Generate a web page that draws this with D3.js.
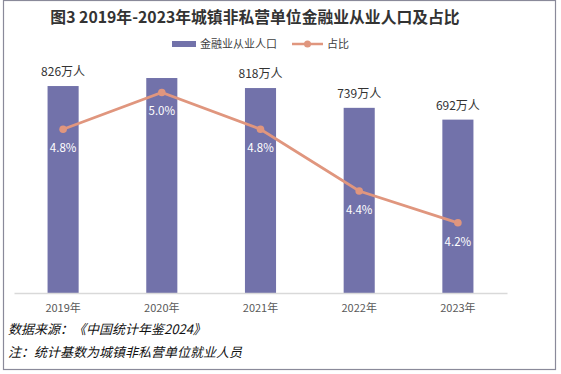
<!DOCTYPE html>
<html><head><meta charset="utf-8">
<script src="https://cdn.jsdelivr.net/npm/d3@7/dist/d3.min.js"></script>
<style>body{margin:0;background:#fff;}svg{display:block;}</style>
</head><body>
<script>
const categories = ["2019年","2020年","2021年","2022年","2023年"];
const employees = [826, 858, 818, 739, 692];
const employeeLabels = ["826万人", "", "818万人", "739万人", "692万人"];
const shares = [4.78, 5.0, 4.78, 4.41, 4.22];
const title = "图3 2019年-2023年城镇非私营单位金融业从业人口及占比";
const legendNames = ["金融业从业人口", "占比"];
const notes = ["数据来源：《中国统计年鉴2024》", "注：统计基数为城镇非私营单位就业人员"];

const W = 561, H = 374;
const barColor = "#7272AA", lineColor = "#E0967E";
const font = "'Noto Sans CJK SC', 'Noto Sans', sans-serif";
const svg = d3.select("body").append("svg").attr("width", W).attr("height", H);

svg.append("rect").attr("x", 3.5).attr("y", 0.5).attr("width", 552).attr("height", 369)
  .attr("fill", "#fff").attr("stroke", "#8a8a9a").attr("stroke-width", 1.2);

const x = d3.scaleBand().domain(categories).range([14, 507]).paddingInner(0.685).paddingOuter(0.34);
const y = d3.scaleLinear().domain([0, 900]).range([293, 67.5]);
const y2 = d3.scaleLinear().domain([3.8, 5.2]).range([293, 59]);

svg.append("text").attr("x", 255).attr("y", 23).attr("text-anchor", "middle")
  .attr("font-family", font).attr("font-weight", "bold").attr("font-size", 15.8).attr("fill", "#333")
  .text(title);

// legend
const lg = svg.append("g").attr("font-family", font).attr("font-size", 11).attr("fill", "#404040");
lg.append("rect").attr("x", 172).attr("y", 41).attr("width", 24).attr("height", 6).attr("fill", barColor);
lg.append("text").attr("x", 200).attr("y", 48).text(legendNames[0]);
lg.append("line").attr("x1", 292).attr("x2", 323).attr("y1", 44).attr("y2", 44).attr("stroke", lineColor).attr("stroke-width", 2.5);
lg.append("circle").attr("cx", 307.5).attr("cy", 44).attr("r", 3.5).attr("fill", lineColor);
lg.append("text").attr("x", 327).attr("y", 48).text(legendNames[1]);

// bars
svg.append("g").selectAll("rect").data(categories).join("rect")
  .attr("x", d => x(d)).attr("width", x.bandwidth())
  .attr("y", (d, i) => y(employees[i])).attr("height", (d, i) => y(0) - y(employees[i]))
  .attr("fill", barColor);

svg.append("g").selectAll("text").data(categories).join("text")
  .attr("x", d => x(d) + x.bandwidth() / 2).attr("y", (d, i) => y(employees[i]) - 10)
  .attr("text-anchor", "middle").attr("font-family", font).attr("font-size", 12).attr("fill", "#333")
  .text((d, i) => employeeLabels[i]);

// axis
const ax = svg.append("g").attr("transform", "translate(0,293)")
  .call(d3.axisBottom(x).tickSize(0).tickPadding(11));
ax.select(".domain").attr("stroke", "#d9d9d9").attr("stroke-width", 1.3);
ax.selectAll("text").attr("font-family", font).attr("font-size", 11).attr("fill", "#595959");

// line
const line = d3.line().x((d, i) => x(categories[i]) + x.bandwidth() / 2).y(d => y2(d));
svg.append("path").datum(shares).attr("d", line).attr("fill", "none")
  .attr("stroke", lineColor).attr("stroke-width", 2.8);
svg.append("g").selectAll("circle").data(shares).join("circle")
  .attr("cx", (d, i) => x(categories[i]) + x.bandwidth() / 2).attr("cy", d => y2(d))
  .attr("r", 3.8).attr("fill", lineColor);
svg.append("g").selectAll("text").data(shares).join("text")
  .attr("x", (d, i) => x(categories[i]) + x.bandwidth() / 2).attr("y", d => y2(d) + 23)
  .attr("text-anchor", "middle").attr("font-family", font).attr("font-size", 11.5).attr("fill", "#fff")
  .text(d => d.toFixed(1) + "%");

// notes
svg.append("g").selectAll("text").data(notes).join("text")
  .attr("x", 8).attr("y", (d, i) => 334 + i * 23)
  .attr("font-family", font).attr("font-style", "italic").attr("font-size", 13).attr("fill", "#111")
  .text(d => d);
</script>
</body></html>
